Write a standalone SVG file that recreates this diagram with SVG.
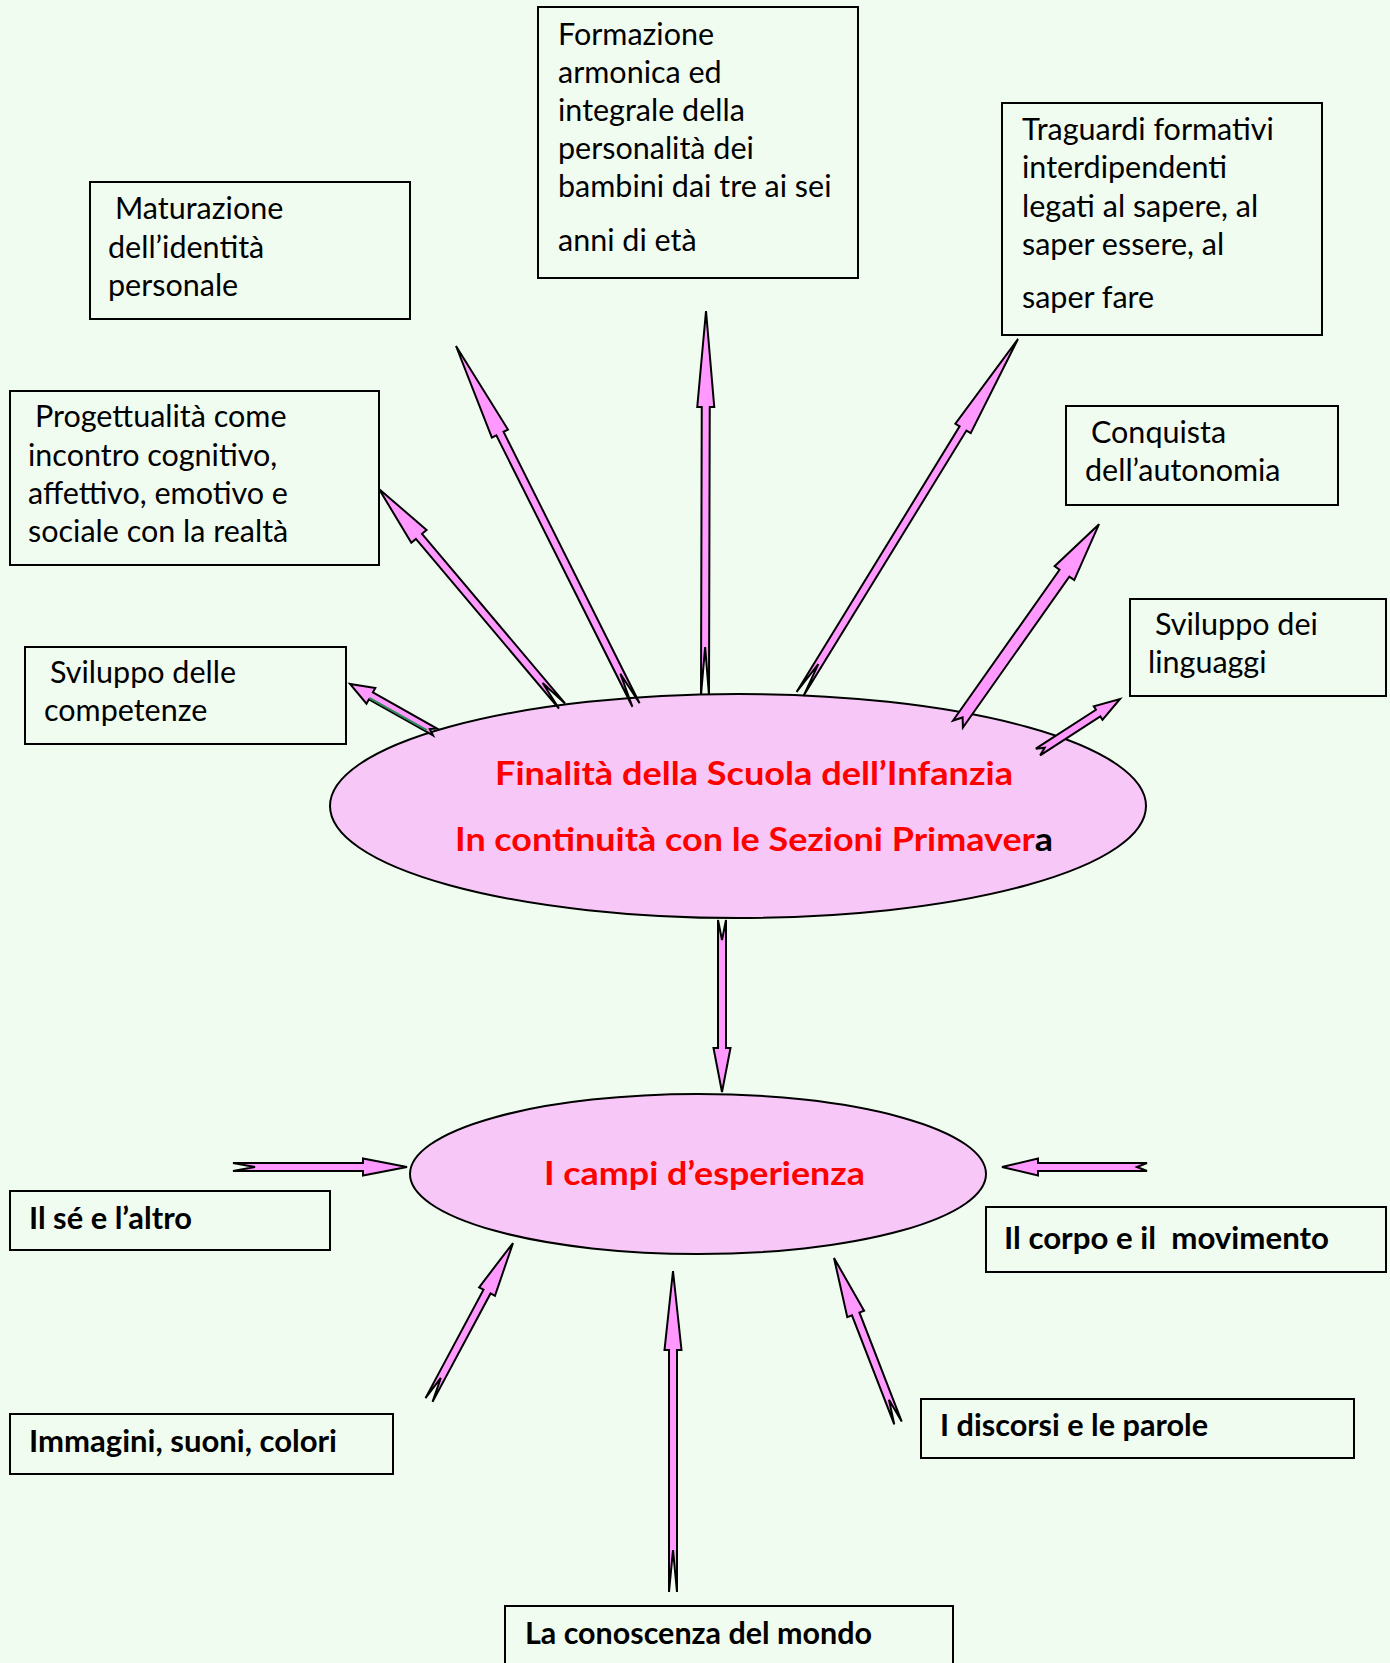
<svg xmlns="http://www.w3.org/2000/svg" width="1390" height="1663" viewBox="0 0 1390 1663">
<style>
.box{fill:none;stroke:#000;stroke-width:2}
.t{font-family:Lato,"Liberation Sans",sans-serif;font-size:30.5px;fill:#000}
.b{font-family:Lato,"Liberation Sans",sans-serif;font-size:31px;font-weight:bold;fill:#000}
.r{font-family:Lato,"Liberation Sans",sans-serif;font-size:33px;font-weight:bold;fill:#FF0000}
.ell{fill:#F7C8F7;stroke:#000;stroke-width:2}
.arr{fill:#FF99FF;stroke:#000;stroke-width:2;stroke-linejoin:miter}
</style>
<rect width="1390" height="1663" fill="#F1FCF0"/>
<g id="n-maturazione">
<rect class="box" x="90" y="182" width="320" height="137"/>
<text class="t" x="115" y="219">Maturazione</text>
<text class="t" x="108" y="258">dell’identità</text>
<text class="t" x="108" y="296">personale</text>
</g>
<g id="n-formazione">
<rect class="box" x="538" y="7" width="320" height="271"/>
<text class="t" x="558" y="45">Formazione</text>
<text class="t" x="558" y="83">armonica ed</text>
<text class="t" x="558" y="121">integrale della</text>
<text class="t" x="558" y="159">personalità dei</text>
<text class="t" x="558" y="197">bambini dai tre ai sei</text>
<text class="t" x="558" y="251">anni di età</text>
</g>
<g id="n-traguardi">
<rect class="box" x="1002" y="103" width="320" height="232"/>
<text class="t" x="1022" y="140">Traguardi formativi</text>
<text class="t" x="1022" y="178">interdipendenti</text>
<text class="t" x="1022" y="217">legati al sapere, al</text>
<text class="t" x="1022" y="255">saper essere, al</text>
<text class="t" x="1022" y="308">saper fare</text>
</g>
<g id="n-progettualita">
<rect class="box" x="10" y="391" width="369" height="174"/>
<text class="t" x="35" y="427">Progettualità come</text>
<text class="t" x="28" y="466">incontro cognitivo,</text>
<text class="t" x="28" y="504">affettivo, emotivo e</text>
<text class="t" x="28" y="542">sociale con la realtà</text>
</g>
<g id="n-conquista">
<rect class="box" x="1066" y="406" width="272" height="99"/>
<text class="t" x="1091" y="443">Conquista</text>
<text class="t" x="1085" y="481">dell’autonomia</text>
</g>
<g id="n-competenze">
<rect class="box" x="25" y="647" width="321" height="97"/>
<text class="t" x="50" y="683">Sviluppo delle</text>
<text class="t" x="44" y="721">competenze</text>
</g>
<g id="n-linguaggi">
<rect class="box" x="1130" y="599" width="256" height="97"/>
<text class="t" x="1155" y="635">Sviluppo dei</text>
<text class="t" x="1148" y="673">linguaggi</text>
</g>
<g id="n-finalita">
<ellipse class="ell" cx="738" cy="806" rx="408" ry="112"/>
<text class="r" x="495" y="785" textLength="518" lengthAdjust="spacingAndGlyphs">Finalità della Scuola dell’Infanzia</text>
<text class="r" x="455" y="851" textLength="598" lengthAdjust="spacingAndGlyphs">In continuità con le Sezioni Primaver<tspan fill="#000">a</tspan></text>
</g>
<g id="n-campi">
<ellipse class="ell" cx="698" cy="1174" rx="288" ry="80"/>
<text class="r" x="544" y="1185" textLength="321" lengthAdjust="spacingAndGlyphs">I campi d’esperienza</text>
</g>
<g id="n-se">
<rect class="box" x="10" y="1191" width="320" height="59"/>
<text class="b" x="29" y="1229" textLength="163" lengthAdjust="spacingAndGlyphs">Il sé e l’altro</text>
</g>
<g id="n-corpo">
<rect class="box" x="986" y="1207" width="400" height="65"/>
<text class="b" x="1004" y="1249" xml:space="preserve" textLength="325" lengthAdjust="spacingAndGlyphs">Il corpo e il  movimento</text>
</g>
<g id="n-immagini">
<rect class="box" x="10" y="1414" width="383" height="60"/>
<text class="b" x="29" y="1452" textLength="308" lengthAdjust="spacingAndGlyphs">Immagini, suoni, colori</text>
</g>
<g id="n-discorsi">
<rect class="box" x="921" y="1399" width="433" height="59"/>
<text class="b" x="940" y="1436" textLength="268" lengthAdjust="spacingAndGlyphs">I discorsi e le parole</text>
</g>
<g id="n-conoscenza">
<rect class="box" x="505" y="1606" width="448" height="70"/>
<text class="b" x="525" y="1644" textLength="347" lengthAdjust="spacingAndGlyphs">La conoscenza del mondo</text>
</g>
<g id="connectors">
<path class="arr" transform="translate(435,732) rotate(-150.55)" d="M0,-4 L73.6,-4 L73.6,-9 L97.6,0 L73.6,9 L73.6,4 L0,4 L6,0 Z"/>
<path transform="translate(435,732) rotate(-150.55)" d="M8,-2.5 L74,-2.5" stroke="#2E8B57" stroke-width="2" fill="none"/>
<path class="arr" transform="translate(562,706) rotate(-130.14)" d="M0,-4 L221.9,-4 L221.9,-10 L283.9,0 L221.9,10 L221.9,4 L0,4 L30,0 Z"/>
<path class="arr" transform="translate(636,705) rotate(-116.63)" d="M0,-4 L303.6,-4 L303.6,-9 L401.6,0 L303.6,9 L303.6,4 L0,4 L35,0 Z"/>
<path class="arr" transform="translate(705,695) rotate(-89.85)" d="M0,-4 L288,-4 L288,-8.5 L384,0 L288,8.5 L288,4 L0,4 L48,0 Z"/>
<path class="arr" transform="translate(800,694) rotate(-58.45)" d="M0,-4 L311.6,-4 L311.6,-9 L416.6,0 L311.6,9 L311.6,4 L0,4 L35,0 Z"/>
<path class="arr" transform="translate(958,724) rotate(-54.79)" d="M0,-6 L184.6,-6 L184.6,-12 L244.6,0 L184.6,12 L184.6,6 L0,6 L8,0 Z"/>
<path class="arr" transform="translate(1038,752) rotate(-32.88)" d="M0,-4 L71.6,-4 L71.6,-8 L97.6,0 L71.6,8 L71.6,4 L0,4 L8,0 Z"/>
<path class="arr" transform="translate(722,920) rotate(90)" d="M0,-4 L128,-4 L128,-8.5 L172,0 L128,8.5 L128,4 L0,4 L20,0 Z"/>
<path class="arr" transform="translate(233,1167)" d="M0,-4 L130,-4 L130,-8.5 L174,0 L130,8.5 L130,4 L0,4 L22,0 Z"/>
<path class="arr" transform="translate(1147,1167) rotate(180)" d="M0,-4 L109,-4 L109,-8.5 L145,0 L109,8.5 L109,4 L0,4 L10,0 Z"/>
<path class="arr" transform="translate(429,1400) rotate(-61.85)" d="M0,-4 L123,-4 L123,-9 L178,0 L123,9 L123,4 L0,4 L25,0 Z"/>
<path class="arr" transform="translate(673,1592) rotate(-90)" d="M0,-4 L242,-4 L242,-8.5 L321,0 L242,8.5 L242,4 L0,4 L42,0 Z"/>
<path class="arr" transform="translate(898,1423) rotate(-111.2)" d="M0,-4 L117,-4 L117,-9 L177,0 L117,9 L117,4 L0,4 L25,0 Z"/>
</g>
</svg>
